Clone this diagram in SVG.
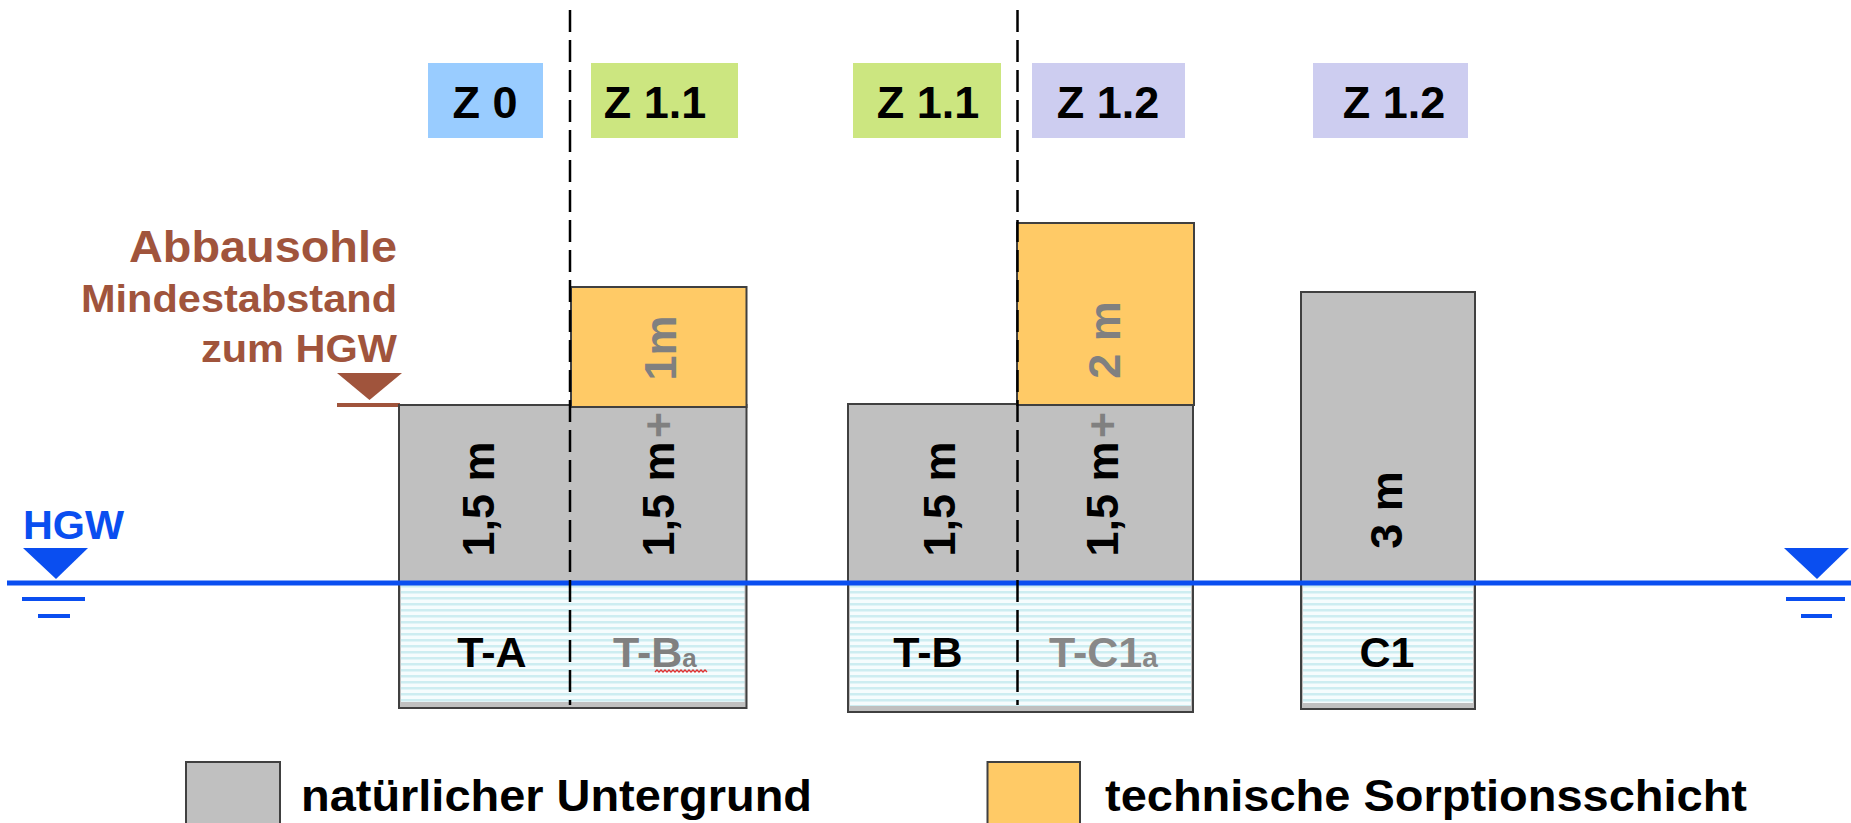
<svg xmlns="http://www.w3.org/2000/svg" width="1851" height="823" viewBox="0 0 1851 823">
<style>
.t{font-family:"Liberation Sans",Arial,sans-serif;font-weight:bold}
.box{stroke:#404040;stroke-width:2}
.gray{fill:#C0C0C0}
.orange{fill:#FFCA66}
.zone{font-size:45px;fill:#000;text-anchor:middle}
.dim{font-size:45px;text-anchor:middle}
.lab{font-size:43px;text-anchor:middle}
.brown{fill:#A0543C;text-anchor:end}
.blue{fill:#0A4EF0}
.bl{stroke:#0A4EF0;stroke-width:4}
.dash{stroke:#000;stroke-width:2.5;stroke-dasharray:22 8;fill:none}
</style>
<defs>
<pattern id="water" width="10" height="6" patternUnits="userSpaceOnUse">
<rect width="10" height="6" fill="#F6FCFD"/>
<rect y="3" width="10" height="2.5" fill="#CDEDF1"/>
</pattern>
</defs>
<rect width="1851" height="823" fill="#fff"/>

<g id="zones">
<rect x="428" y="63" width="115" height="75" fill="#99CCFF"/>
<text class="t zone" x="485" y="118">Z 0</text>
<rect x="591" y="63" width="147" height="75" fill="#CCE680"/>
<text class="t zone" x="655" y="118">Z 1.1</text>
<rect x="853" y="63" width="148" height="75" fill="#CCE680"/>
<text class="t zone" x="928" y="118">Z 1.1</text>
<rect x="1032" y="63" width="153" height="75" fill="#CDCDF0"/>
<text class="t zone" x="1108" y="118">Z 1.2</text>
<rect x="1313" y="63" width="155" height="75" fill="#CDCDF0"/>
<text class="t zone" x="1394" y="118">Z 1.2</text>
</g>

<g id="abbausohle">
<text class="t brown" x="397" y="262" font-size="45" textLength="268" lengthAdjust="spacingAndGlyphs">Abbausohle</text>
<text class="t brown" x="397" y="312" font-size="39" textLength="316" lengthAdjust="spacingAndGlyphs">Mindestabstand</text>
<text class="t brown" x="397" y="362" font-size="39" textLength="196" lengthAdjust="spacingAndGlyphs">zum HGW</text>
<polygon points="337,373 402,373 369.5,400" fill="#A0543C"/>
<line x1="337" y1="405" x2="400" y2="405" stroke="#A0543C" stroke-width="4"/>
</g>

<g id="col-TA-TBa">
<rect class="box gray" x="399" y="405" width="347.5" height="303"/>
<rect x="401" y="585" width="343.5" height="117" fill="url(#water)"/>
<rect class="box orange" x="571" y="287" width="175.5" height="120"/>
<text class="t dim" transform="translate(494,499) rotate(-90)" fill="#000">1,5 m</text>
<text class="t dim" transform="translate(674,499) rotate(-90)" fill="#000">1,5 m</text>
<text class="t dim" transform="translate(674,425) rotate(-90)" fill="#808080">+</text>
<text class="t dim" font-size="43" transform="translate(676,348) rotate(-90)" fill="#808080">1m</text>
<text class="t lab" x="492" y="667" fill="#000">T-A</text>
<text class="t" x="613" y="667" font-size="43" fill="#808080">T-B<tspan font-size="26">a</tspan></text>
<path d="M655,672 l2,-2 l2,2 l2,-2 l2,2 l2,-2 l2,2 l2,-2 l2,2 l2,-2 l2,2 l2,-2 l2,2 l2,-2 l2,2 l2,-2 l2,2 l2,-2 l2,2 l2,-2 l2,2 l2,-2 l2,2 l2,-2 l2,2 l2,-2 l2,2" fill="none" stroke="#E03030" stroke-width="1.3"/>
</g>

<g id="col-TB-TC1a">
<rect class="box gray" x="848" y="404" width="345" height="308"/>
<rect x="850" y="585" width="341" height="121" fill="url(#water)"/>
<rect class="box orange" x="1017" y="223" width="177" height="182"/>
<text class="t dim" transform="translate(955,499) rotate(-90)" fill="#000">1,5 m</text>
<text class="t dim" transform="translate(1118,499) rotate(-90)" fill="#000">1,5 m</text>
<text class="t dim" transform="translate(1118,425) rotate(-90)" fill="#808080">+</text>
<text class="t dim" font-size="44" transform="translate(1120,340) rotate(-90)" fill="#808080">2 m</text>
<text class="t lab" x="928" y="667" fill="#000">T-B</text>
<text class="t" x="1049" y="667" font-size="43" fill="#888">T-C1<tspan font-size="28">a</tspan></text>
</g>

<g id="col-C1">
<rect class="box gray" x="1301" y="292" width="174" height="417"/>
<rect x="1303" y="585" width="170" height="118" fill="url(#water)"/>
<text class="t dim" font-size="44" transform="translate(1402,510) rotate(-90)" fill="#000">3 m</text>
<text class="t lab" x="1387" y="667" fill="#000">C1</text>
</g>

<g id="connectors">
<line x1="7" y1="583" x2="1851" y2="583" stroke="#0A4EF0" stroke-width="5"/>
<line class="dash" x1="570" y1="10" x2="570" y2="705"/>
<line class="dash" x1="1017.5" y1="10" x2="1017.5" y2="705"/>
</g>

<g id="hgw-left">
<text class="t blue" x="23" y="539" font-size="40" textLength="101" lengthAdjust="spacingAndGlyphs">HGW</text>
<polygon class="blue" points="23,548 88,548 56,579"/>
<line class="bl" x1="22" y1="599" x2="85" y2="599"/>
<line class="bl" x1="38" y1="616" x2="70" y2="616"/>
</g>

<g id="hgw-right">
<polygon class="blue" points="1784,548 1849,548 1817,579"/>
<line class="bl" x1="1786" y1="599" x2="1845" y2="599"/>
<line class="bl" x1="1801" y1="616" x2="1832" y2="616"/>
</g>

<g id="legend-natural">
<rect class="box gray" x="186" y="762" width="94" height="70"/>
<text class="t" x="301" y="811" font-size="45" textLength="511" lengthAdjust="spacingAndGlyphs">natürlicher Untergrund</text>
</g>
<g id="legend-technical">
<rect class="box orange" x="987.5" y="762" width="92.5" height="70"/>
<text class="t" x="1105" y="811" font-size="45" textLength="642" lengthAdjust="spacingAndGlyphs">technische Sorptionsschicht</text>
</g>
</svg>
